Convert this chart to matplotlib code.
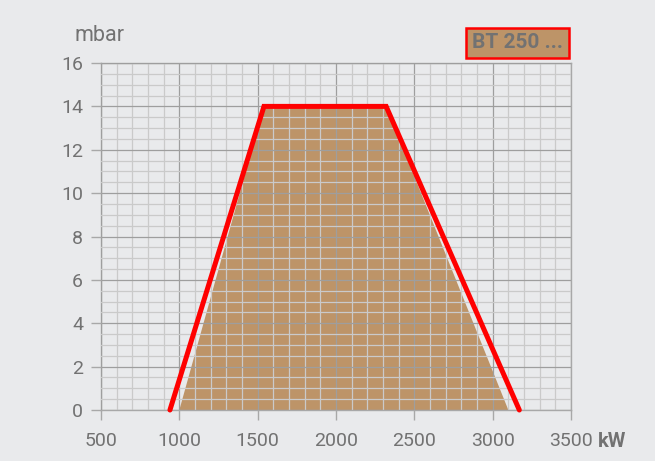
import matplotlib.pyplot as plt
from matplotlib.ticker import MultipleLocator

# operating range of the burner (output in kW vs. combustion chamber pressure)
range_kw = [940, 1540, 2320, 3170]
range_mbar = [0, 14, 14, 0]

# shaded working field
field_kw = [1000, 1540, 2320, 3100]
field_mbar = [0, 14, 14, 0]

model_label = "BT 250 ..."

bg = "#e9eaec"
tan = "#bd9468"
text_gray = "#727272"

plt.rcParams["font.family"] = ["Roboto", "DejaVu Sans"]

fig = plt.figure(figsize=(6.55, 4.61), dpi=100)
fig.set_facecolor(bg)
ax = fig.add_axes([0.1542, 0.1106, 0.7176, 0.7527])
ax.set_facecolor(bg)

ax.fill(field_kw, field_mbar, color=tan, zorder=1, linewidth=0)
ax.plot(range_kw, range_mbar, color="#ff0000", linewidth=3.6,
        solid_capstyle="round", solid_joinstyle="miter", zorder=5, clip_on=False)

ax.set_xlim(500, 3500)
ax.set_ylim(0, 16)
ax.xaxis.set_major_locator(MultipleLocator(500))
ax.xaxis.set_minor_locator(MultipleLocator(100))
ax.yaxis.set_major_locator(MultipleLocator(2))
ax.yaxis.set_minor_locator(MultipleLocator(0.5))

ax.set_axisbelow(False)
ax.grid(which="minor", color="#cacaca", linewidth=0.9, zorder=2)
ax.grid(which="major", color="#9e9e9e", linewidth=0.9, zorder=3)

for side in ["left", "bottom", "top", "right"]:
    ax.spines[side].set_color("#a8a8a8")
    ax.spines[side].set_linewidth(1.0)

ax.tick_params(which="major", length=7, width=1.0, color="#a8a8a8",
               labelsize=14, labelcolor=text_gray)
ax.tick_params(axis="x", which="major", pad=9)
ax.tick_params(axis="y", which="major", pad=6)
ax.tick_params(which="minor", length=0)

fig.text(0.114, 0.9, "mbar", fontsize=15.5, color=text_gray, ha="left", va="bottom")
fig.text(0.913, 0.03, "kW", fontsize=14.5, color=text_gray, ha="left",
         va="baseline", fontweight="bold")

fig.text(0.7905, 0.907, model_label, fontsize=15, color=text_gray, fontweight="bold",
         ha="center", va="center",
         bbox=dict(boxstyle="square,pad=0.28", facecolor=tan, edgecolor="#ff0000",
                   linewidth=1.8))

fig.savefig("out.png", dpi=100, facecolor=bg)
